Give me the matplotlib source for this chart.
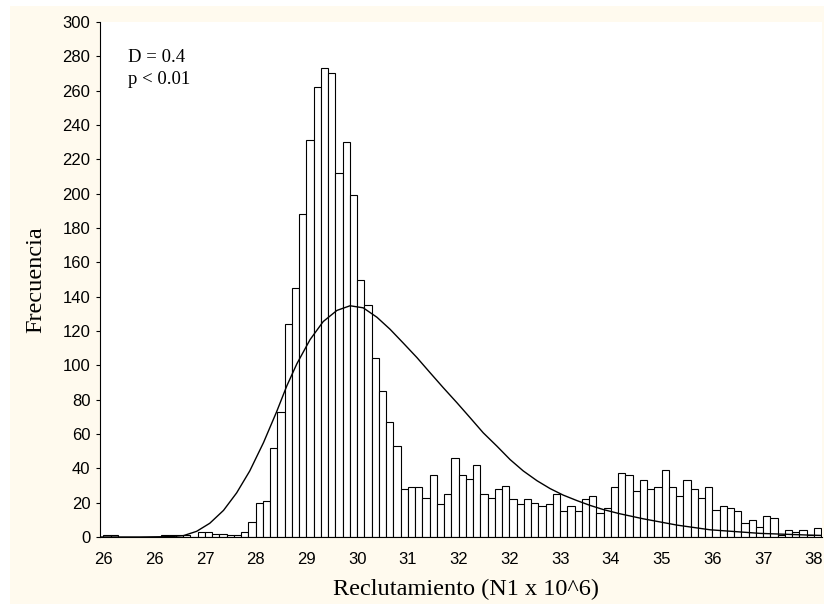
import numpy as np
import matplotlib
matplotlib.use("Agg")
import matplotlib.pyplot as plt
from matplotlib.patches import Rectangle
from matplotlib.ticker import FormatStrFormatter

# histogram bins: first edge and width (7 bins per labelled tick)
bin_start = 25.62
bin_width = 0.85 / 7

# frequency per bin
counts = [
    1, 1, 0, 0, 0, 0, 0, 0, 1, 1,
    1, 1, 0, 3, 3, 2, 2, 1, 1, 3,
    9, 20, 21, 52, 73, 124, 145, 188, 231, 262,
    273, 270, 212, 230, 199, 150, 135, 104, 85, 67,
    53, 28, 29, 29, 23, 36, 19, 25, 46, 36,
    34, 42, 25, 23, 28, 30, 22, 19, 22, 20,
    18, 19, 25, 15, 18, 15, 22, 24, 14, 17,
    29, 37, 36, 27, 33, 28, 29, 39, 29, 24,
    33, 28, 23, 29, 16, 18, 17, 15, 8, 10,
    6, 12, 11, 1, 4, 3, 4, 1, 5,
]

# fitted distribution curve
curve_x = [25.56, 26.23, 26.73, 26.96, 27.18, 27.40, 27.63, 27.85, 28.07, 28.30,
           28.52, 28.69, 28.86, 29.08, 29.30, 29.53, 29.75, 29.97, 30.20, 30.42,
           30.64, 30.87, 31.09, 31.31, 31.54, 31.76, 31.98, 32.21, 32.43, 32.65,
           32.88, 33.10, 33.32, 33.55, 33.77, 33.99, 34.26, 34.66, 35.23, 35.78,
           36.62, 37.45, 37.65]
curve_y = [0.0, 0.0, 0.2, 0.8, 3.3, 8.0, 15.5, 25.7, 38.5, 55.0,
           73.0, 88.0, 101.0, 115.0, 125.5, 132.0, 134.7, 133.5, 128.0, 121.0,
           113.0, 104.5, 95.7, 87.0, 78.2, 69.5, 60.7, 52.9, 45.1, 38.5,
           32.8, 28.2, 24.4, 21.2, 18.4, 16.0, 13.6, 10.6, 6.9, 4.2,
           2.1, 1.1, 0.9]

y_ticks = list(range(0, 301, 20))
stat_lines = ["D = 0.4", "p < 0.01"]

edges = bin_start + bin_width * np.arange(len(counts) + 1)
x_ticks = edges[::7]

fig = plt.figure(figsize=(8.24, 6.04), dpi=100, facecolor="white")
fig.patches.append(Rectangle((10 / 824, 0), 1, 598 / 604, transform=fig.transFigure,
                             facecolor="#FFFAEE", edgecolor="none", zorder=-1))
ax = fig.add_axes([100 / 824, 1 - 537 / 604, 722 / 824, 515 / 604])
ax.set_facecolor("white")

ax.bar(edges[:-1], counts, width=bin_width, align="edge",
       color="white", edgecolor="black", linewidth=0.8)
ax.plot(curve_x, curve_y, color="black", linewidth=1.0)

ax.set_xlim(25.5614, 37.654)
ax.set_ylim(0, 300)
ax.set_xticks(x_ticks)
ax.xaxis.set_major_formatter(FormatStrFormatter("%.0f"))
ax.set_yticks(y_ticks)

for lab in ax.get_xticklabels() + ax.get_yticklabels():
    lab.set_family("Liberation Sans")
ax.tick_params(axis="y", direction="out", length=3, width=0.8, pad=4, labelsize=12)
ax.tick_params(axis="x", length=0, pad=10.5, labelsize=12)

ax.spines["top"].set_visible(False)
ax.spines["right"].set_visible(False)
ax.spines["left"].set_linewidth(0.8)
ax.spines["bottom"].set_linewidth(0.8)

ax.set_xlabel("Reclutamiento (N1 x 10^6)", family="Liberation Serif", fontsize=17.5)
ax.xaxis.set_label_coords(0.507, -0.081)
ax.set_ylabel("Frecuencia", family="Liberation Serif", fontsize=17.5)
ax.yaxis.set_label_coords(-0.075, 0.5)

ax.text(0.0388, 0.9223, stat_lines[0], transform=ax.transAxes, va="baseline",
        family="Liberation Serif", fontsize=13.5)
ax.text(0.0388, 0.8796, stat_lines[1], transform=ax.transAxes, va="baseline",
        family="Liberation Serif", fontsize=13.5)

fig.savefig("out.png", dpi=100, facecolor=fig.get_facecolor())
